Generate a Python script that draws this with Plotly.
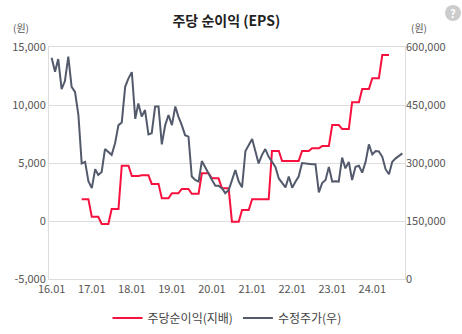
import plotly.graph_objects as go
import pandas as pd

# Monthly dates (2016.01 - 2024.10)
dates = pd.date_range("2016-01-01", periods=106, freq="MS")

# 수정주가 (won), monthly
price = [
    572000, 536000, 569000, 491000, 512000, 575000, 497000, 484000, 424000, 299000,
    303000, 253000, 235000, 284000, 269000, 277000, 336000, 328000, 321000, 351000,
    398000, 405000, 497000, 519000, 535000, 414000, 454000, 420000, 437000, 374000,
    377000, 446000, 446000, 348000, 398000, 424000, 398000, 446000, 420000, 398000,
    372000, 368000, 265000, 256000, 252000, 305000, 290000, 273000, 256000, 241000,
    241000, 235000, 222000, 230000, 255000, 282000, 252000, 237000, 331000, 346000,
    362000, 329000, 299000, 321000, 336000, 316000, 303000, 290000, 260000, 250000,
    237000, 265000, 236000, 252000, 265000, 300000, 299000, 297000, 297000, 297000,
    224000, 248000, 256000, 290000, 252000, 253000, 252000, 314000, 286000, 303000,
    256000, 290000, 293000, 275000, 303000, 348000, 322000, 331000, 330000, 316000,
    284000, 271000, 303000, 312000, 318000, 325000,
]

# 주당순이익(지배) (won), monthly
eps = [
    None, None, None, None, None, None, None, None, None,
    1870, 1870, 1870, 370, 370, 370, -260, -260, -260, 1030, 1030, 1030,
    4770, 4770, 4770, 3880, 3880, 3880, 3950, 3950, 3950, 3200, 3200, 3200,
    1960, 1960, 1960, 2390, 2390, 2390, 2760, 2760, 2760, 2350, 2350, 2350,
    4110, 4110, 4110, 3680, 3680, 3680, 2820, 2820, 2820, -60, -60, -60,
    950, 950, 950, 1870, 1870, 1870, 1870, 1870, 1870, 6030, 6030, 6030,
    5170, 5170, 5170, 5170, 5170, 5170, 6030, 6030, 6030, 6270, 6270, 6270,
    6460, 6460, 6460, 8280, 8280, 8280, 7930, 7930, 7930, 10230, 10230, 10230,
    11380, 11380, 11380, 12300, 12300, 12300, 14310, 14310, 14310,
    None, None, None, None,
]

x_tickvals = [f"{y}-01-01" for y in range(2016, 2025)]
x_ticktext = ["16.01", "17.01", "18.01", "19.01", "20.01", "21.01", "22.01", "23.01", "24.01"]
left_ticks = [-5000, 0, 5000, 10000, 15000]
left_text = ["-5,000", "0", "5,000", "10,000", "15,000"]
right_ticks = [0, 150000, 300000, 450000, 600000]
right_text = ["0", "150,000", "300,000", "450,000", "600,000"]

FONT = "Noto Sans CJK KR"
RED = "#f7113f"
GRAY = "#535a6c"
TICK = "#555555"

fig = go.Figure()
fig.add_trace(go.Scatter(x=dates, y=eps, name="주당순이익(지배)", mode="lines",
                         line=dict(color=RED, width=2), connectgaps=False))
fig.add_trace(go.Scatter(x=dates, y=price, name="수정주가(우)", mode="lines",
                         line=dict(color=GRAY, width=2), yaxis="y2"))

fig.update_layout(
    width=462, height=334,
    margin=dict(l=49, r=57, t=47, b=55, autoexpand=False),
    paper_bgcolor="white", plot_bgcolor="white",
    font=dict(family=FONT, size=11, color=TICK),
    title=dict(text="<b>주당 순이익 (EPS)</b>", x=0.49, xanchor="center", y=0.937, yanchor="middle",
               font=dict(family=FONT, size=14, color="#222222")),
    showlegend=True,
    legend=dict(orientation="h", x=0.5, xanchor="center", y=-0.168, yanchor="middle",
                font=dict(family=FONT, size=12, color="#444444"), itemwidth=30),
    xaxis=dict(type="date", range=["2015-12-08", "2024-10-25"],
               tickvals=x_tickvals, ticktext=x_ticktext, showgrid=False,
               showline=True, linecolor="#dddddd", linewidth=1, mirror=True,
               ticks="", tickfont=dict(size=11, color=TICK), zeroline=False),
    yaxis=dict(range=[-5000, 15000], tickvals=left_ticks, ticktext=left_text,
               showgrid=True, gridcolor="#dddddd", gridwidth=1,
               showline=True, linecolor="#dddddd", linewidth=1, mirror=True,
               zeroline=False, ticks="", tickfont=dict(size=11, color=TICK)),
    yaxis2=dict(range=[0, 600000], tickvals=right_ticks, ticktext=right_text,
                overlaying="y", side="right", showgrid=False, zeroline=False,
                showline=False, ticks="", tickfont=dict(size=11, color=TICK)),
)

fig.add_annotation(text="(원)", xref="paper", yref="paper", x=-0.08, y=1.082,
                   xanchor="center", yanchor="middle", showarrow=False,
                   font=dict(family=FONT, size=10, color=TICK))
fig.add_annotation(text="(원)", xref="paper", yref="paper", x=1.04, y=1.082,
                   xanchor="center", yanchor="middle", showarrow=False,
                   font=dict(family=FONT, size=10, color=TICK))

# help icon
fig.add_shape(type="circle", xref="paper", yref="paper",
              x0=(445 - 49) / 356, x1=(461 - 49) / 356,
              y0=(279 - 21) / 232, y1=(279 - 5) / 232,
              fillcolor="#cccccc", line=dict(width=0))
fig.add_annotation(text="<b>?</b>", xref="paper", yref="paper",
                   x=(453 - 49) / 356, y=(279 - 13) / 232,
                   xanchor="center", yanchor="middle", showarrow=False,
                   font=dict(family=FONT, size=11, color="white"))

fig.write_html("out.html")
